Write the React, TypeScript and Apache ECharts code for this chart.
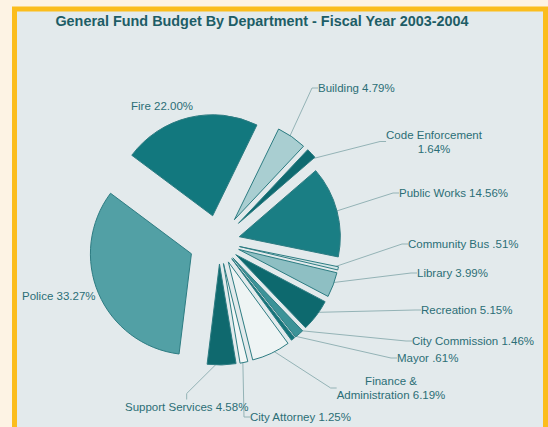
import React, { useEffect, useRef } from "react";
import * as echarts from "echarts";

const titleText = "General Fund Budget By Department - Fiscal Year 2003-2004";

const departments = [
  "Building",
  "Code Enforcement",
  "Public Works",
  "Community Bus",
  "Library",
  "Recreation",
  "City Commission",
  "Mayor",
  "Finance & Administration",
  "City Attorney",
  "Support Services",
  "Police",
  "Fire",
];

const shares = [4.79, 1.64, 14.56, 0.51, 3.99, 5.15, 1.46, 0.61, 6.19, 1.25, 4.58, 33.27, 22.0];

// styling (not data)
const sliceColors = [
  "#a9ced1",
  "#0e6a70",
  "#1a7e84",
  "#d3e5e6",
  "#8ebfc3",
  "#0d696e",
  "#3c9398",
  "#15747a",
  "#eef4f4",
  "#f2f6f6",
  "#0f696e",
  "#52a0a5",
  "#12787e",
];
const explode = [27, 27, 21, 21, 21, 21, 21, 21, 22, 22, 22, 30, 27];
const showLeader = [true, true, true, true, true, true, true, true, true, true, true, false, false];

// label placement (layout)
const labelSpots = [
  { x: 318, y: 88, align: "left" },
  { x: 434, y: 141.5, align: "center" },
  { x: 399, y: 193, align: "left" },
  { x: 408, y: 244, align: "left" },
  { x: 417, y: 273, align: "left" },
  { x: 421, y: 310, align: "left" },
  { x: 412, y: 341, align: "left" },
  { x: 397, y: 358, align: "left" },
  { x: 391, y: 388, align: "center" },
  { x: 250, y: 417, align: "left" },
  { x: 125, y: 406.5, align: "left" },
  { x: 22, y: 296, align: "left" },
  { x: 131, y: 106, align: "left" },
];

function pct(v: number): string {
  const s = v.toFixed(2);
  return (s.startsWith("0") ? s.slice(1) : s) + "%";
}

function labelText(name: string, v: number): string {
  if (name === "Code Enforcement") return name + "\n" + pct(v);
  if (name === "Finance & Administration") return "Finance &\nAdministration " + pct(v);
  return name + " " + pct(v);
}

export default function App() {
  const ref = useRef<HTMLDivElement>(null);

  useEffect(() => {
    if (!ref.current) return;
    const chart = echarts.init(ref.current, undefined, { renderer: "svg" });
    const offsets = Array.from(new Set(explode));
    const font = "'Liberation Sans', Arial, Helvetica, sans-serif";
    const center = [219, 242];
    const startAngle = 64;

    // visible (exploded) slices, one series per explode distance
    const sliceSeries = offsets.map((off) => ({
      type: "pie",
      center,
      radius: [0, 101],
      startAngle,
      clockwise: true,
      selectedMode: "multiple",
      selectedOffset: off,
      avoidLabelOverlap: false,
      silent: true,
      z: 3,
      emphasis: { disabled: true },
      label: { show: false },
      labelLine: { show: false },
      data: departments.map((name, i) => {
        const mine = explode[i] === off;
        return {
          name,
          value: shares[i],
          selected: true,
          itemStyle: mine
            ? { color: sliceColors[i], borderColor: "#2d7c82", borderWidth: 1 }
            : { color: "rgba(0,0,0,0)", borderWidth: 0 },
        };
      }),
    }));

    // transparent carrier for labels and leader lines
    const labelSeries = {
      type: "pie",
      center,
      radius: [0, 117],
      startAngle,
      clockwise: true,
      avoidLabelOverlap: false,
      silent: true,
      z: 1,
      emphasis: { disabled: true },
      itemStyle: { color: "rgba(0,0,0,0)", borderWidth: 0 },
      label: {
        show: true,
        position: "outside",
        color: "#2b6e76",
        fontFamily: font,
        fontSize: 11.5,
        lineHeight: 14,
        formatter: (p: any) => labelText(p.name, p.value),
      },
      labelLine: {
        show: true,
        length: 8,
        length2: 6,
        lineStyle: { color: "#94b3b6", width: 1 },
      },
      labelLayout: (p: any) => {
        const s = labelSpots[p.dataIndex];
        return { x: s.x, y: s.y, align: s.align, verticalAlign: "middle" };
      },
      data: departments.map((name, i) => ({
        name,
        value: shares[i],
        labelLine: { show: showLeader[i] },
      })),
    };

    chart.setOption({
      animation: false,
      backgroundColor: "#fdf3e4",
      title: {
        text: titleText,
        left: 262,
        top: 14,
        padding: 0,
        textAlign: "center",
        textStyle: {
          color: "#1d5d66",
          fontFamily: font,
          fontWeight: "bold",
          fontSize: 14.4,
        },
      },
      graphic: [
        {
          type: "rect",
          z: -10,
          silent: true,
          shape: { x: 14.5, y: 9, width: 531, height: 440 },
          style: { fill: "#e3eaec", stroke: "#fbbd1d", lineWidth: 5 },
        },
      ],
      series: [labelSeries, ...sliceSeries],
    });
    return () => chart.dispose();
  }, []);

  return (
    <div
      style={{ position: "fixed", left: 0, top: 0, width: 548, height: 427, overflow: "hidden" }}
    >
      <div ref={ref} style={{ width: 548, height: 427 }} />
    </div>
  );
}
